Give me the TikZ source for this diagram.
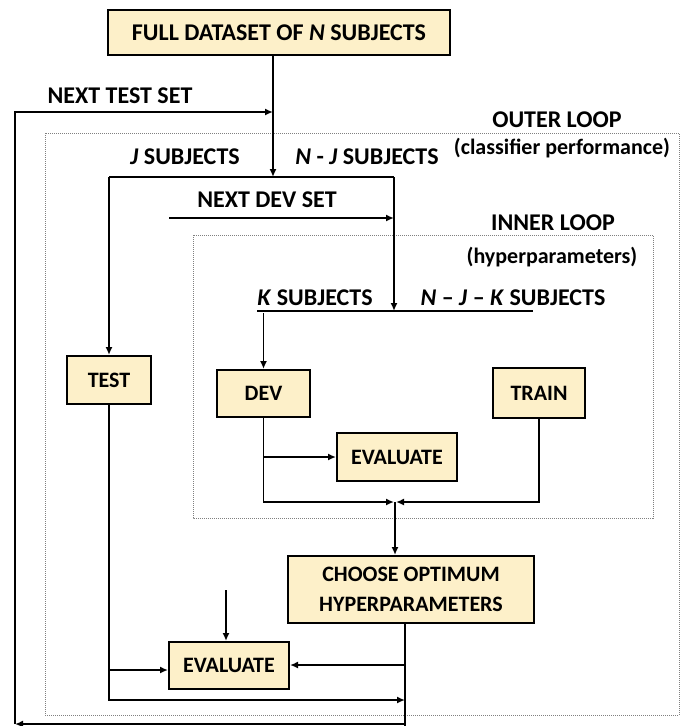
\documentclass[tikz,border=0pt]{standalone}
\usepackage{fontspec}
\setmainfont{Carlito}
\usetikzlibrary{arrows.meta, positioning}
\definecolor{boxfill}{RGB}{253,240,201}

\begin{document}
\begin{tikzpicture}[x=1pt, y=-1pt,
                    every node/.style={font=\bfseries\fontsize{24}{28}\selectfont, inner sep=0pt},
                    box/.style={draw, fill=boxfill, line width=2pt, font=\bfseries\fontsize{22}{30}\selectfont},
                    label text/.style={font=\bfseries\fontsize{22}{26}\selectfont},
                    arr/.style={line width=1.8pt, -{Latex[length=8pt, width=7pt]}},
                    line/.style={line width=1.8pt},
                    loop frame/.style={draw=gray, densely dotted, line width=1pt}
                   ]

    \useasboundingbox (0,0) rectangle (681,726);

    % Loop frames
    \draw[loop frame] (45,133) rectangle (679,715);
    \draw[loop frame] (193,235) rectangle (653,518);

    % Boxes
    \node[box, minimum width=342pt, minimum height=45pt, font=\bfseries\fontsize{24}{28}\selectfont] (full) at (279,32.5) {FULL DATASET OF \textit{N} SUBJECTS};
    \node[box, minimum width=84pt, minimum height=48pt] (test) at (109,380) {TEST};
    \node[box, minimum width=93pt, minimum height=47pt] (dev) at (263.5,393.5) {DEV};
    \node[box, minimum width=92pt, minimum height=50pt] (train) at (539,393) {TRAIN};
    \node[box, minimum width=120pt, minimum height=48pt] (evalin) at (397,457) {EVALUATE};
    \node[box, minimum width=246pt, minimum height=67pt, align=center] (choose) at (411,589.5) {CHOOSE OPTIMUM\\HYPERPARAMETERS};
    \node[box, minimum width=120pt, minimum height=47pt] (evalout) at (229,665.5) {EVALUATE};

    % Labels
    \node (nexttest) at (120,96) {NEXT TEST SET};
    \node (outer) at (557,120) {OUTER LOOP};
    \node[label text] (outerinfo) at (562,148) {(classifier performance)};
    \node (jsub) at (185,157) {\textit{J} SUBJECTS};
    \node (njsub) at (367,157) {\textit{N} - \textit{J} SUBJECTS};
    \node (nextdev) at (267,200) {NEXT DEV SET};
    \node (inner) at (553,223) {INNER LOOP};
    \node[label text] (innerinfo) at (552,257) {(hyperparameters)};
    \node (ksub) at (315,298) {\textit{K} SUBJECTS};
    \node (njksub) at (513,298) {\textit{N} -- \textit{J} -- \textit{K} SUBJECTS};

    % Junction points
    \coordinate (split1) at (273,177);
    \coordinate (split1l) at (109,177);
    \coordinate (split1r) at (394,177);
    \coordinate (split2) at (394,311);
    \coordinate (split2l) at (257,311);
    \coordinate (split2r) at (533,311);
    \coordinate (devin) at (263.5,313);
    \coordinate (devstart) at (169,218);
    \coordinate (join) at (395,502);
    \coordinate (loopin) at (273,112);
    \coordinate (loopout) at (405,724);
    \coordinate (loopcorner) at (15,724);
    \coordinate (hyperout) at (405,726);
    \coordinate (newtest) at (226,590);

    % Outer split
    \draw[arr] (full.south -| split1) -- (split1);
    \draw[line] (split1l) -- (split1r);
    \draw[arr] (split1l) -- (test.north);
    \draw[arr] (split1r) -- (split2);
    \draw[arr] (devstart) -- (devstart -| split1r);

    % Inner split
    \draw[line] (split2l) -- (split2r);
    \draw[arr] (devin) -- (dev.north);
    \draw[arr] (dev.south) -- (dev.south |- join) -- ([xshift=-1pt]join);
    \draw[arr] (dev.south |- evalin) -- (evalin.west);
    \draw[arr] (train.south) -- (train.south |- join) -- ([xshift=1pt]join);
    \draw[arr] (join) -- (choose.north -| join);

    % Final evaluation
    \draw[line] (choose.south -| hyperout) -- (hyperout);
    \draw[arr] (newtest) -- (newtest |- evalout.north);
    \draw[arr] (test.south) -- (test.south |- 0,700) -- (405,700);
    \draw[arr] (test.south |- 0,670) -- (evalout.west |- 0,670);
    \draw[arr] (405,665) -- (evalout.east |- 0,665);

    % Next test set loop
    \draw[arr] (loopout) -- (loopcorner);
    \draw[arr] (loopcorner) -- (loopcorner |- loopin) -- (loopin);

\end{tikzpicture}
\end{document}
